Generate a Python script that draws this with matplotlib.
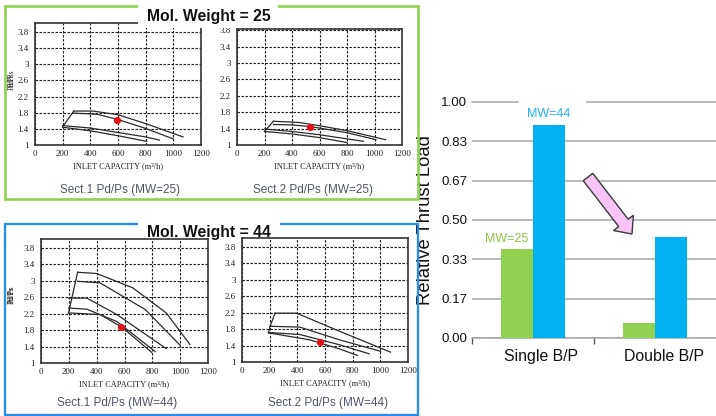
import matplotlib
matplotlib.use('Agg')
import matplotlib.pyplot as plt
import numpy as np
from matplotlib.patches import Rectangle, FancyArrow
from matplotlib.transforms import IdentityTransform, ScaledTranslation

plt.rcParams['font.family'] = ['Liberation Sans', 'DejaVu Sans']

# ---------------- data ----------------
capacity_ticks = [0, 200, 400, 600, 800, 1000, 1200]
ratio_ticks = [1, 1.4, 1.8, 2.2, 2.6, 3.0, 3.4, 3.8]
ratio_labels = ['1', '1.4', '1.8', '2.2', '2.6', '3', '3.4', '3.8']

# Sect.1 MW=25
s1_25_surge_x = [200, 280]
s1_25_surge_y = [1.45, 1.84]
s1_25_c1_x = [280, 420, 600, 800, 1070]
s1_25_c1_y = [1.84, 1.84, 1.75, 1.53, 1.20]
s1_25_c2_x = [280, 450, 600, 800, 1000]
s1_25_c2_y = [1.79, 1.76, 1.63, 1.41, 1.15]
s1_25_c3_x = [200, 400, 600, 800, 900]
s1_25_c3_y = [1.48, 1.42, 1.31, 1.20, 1.12]
s1_25_c4_x = [200, 400, 600, 807]
s1_25_c4_y = [1.44, 1.35, 1.23, 1.09]
s1_25_op = (594, 1.63)

# Sect.2 MW=25
s2_25_surge_x = [200, 265]
s2_25_surge_y = [1.33, 1.58]
s2_25_c1_x = [265, 450, 600, 800, 1080]
s2_25_c1_y = [1.58, 1.55, 1.47, 1.35, 1.13]
s2_25_c2_x = [265, 400, 533, 800, 1010]
s2_25_c2_y = [1.50, 1.49, 1.45, 1.30, 1.13]
s2_25_c3_x = [200, 400, 600, 800, 920]
s2_25_c3_y = [1.39, 1.33, 1.25, 1.15, 1.09]
s2_25_c4_x = [200, 400, 600, 800]
s2_25_c4_y = [1.33, 1.27, 1.18, 1.06]
s2_25_op = (533, 1.45)

# Sect.1 MW=44
s1_44_surge_x = [198, 263]
s1_44_surge_y = [2.22, 3.21]
s1_44_c1_x = [263, 400, 660, 900, 1070]
s1_44_c1_y = [3.21, 3.18, 2.83, 2.22, 1.45]
s1_44_c2_x = [263, 425, 750, 1000]
s1_44_c2_y = [2.99, 2.95, 2.30, 1.43]
s1_44_c3_x = [198, 330, 545, 900]
s1_44_c3_y = [2.58, 2.58, 2.18, 1.35]
s1_44_c4_x = [198, 330, 545, 820]
s1_44_c4_y = [2.34, 2.31, 2.01, 1.28]
s1_44_c5_x = [198, 425, 578, 795]
s1_44_c5_y = [2.22, 2.18, 1.88, 1.26]
s1_44_op = (578, 1.88)

# Sect.2 MW=44
s2_44_surge_x = [191, 203, 239]
s2_44_surge_y = [1.71, 1.87, 2.19]
s2_44_c1_x = [239, 394, 704, 1074]
s2_44_c1_y = [2.19, 2.19, 1.75, 1.24]
s2_44_c2_x = [203, 418, 704, 1002]
s2_44_c2_y = [1.87, 1.85, 1.54, 1.26]
s2_44_c3_x = [191, 418, 704, 919]
s2_44_c3_y = [1.72, 1.67, 1.42, 1.20]
s2_44_c4_x = [191, 489, 704, 835]
s2_44_c4_y = [1.71, 1.54, 1.32, 1.16]
s2_44_op = (566, 1.49)

# Thrust bar chart
bp_categories = ['Single B/P', 'Double B/P']
thrust_mw25 = [0.377, 0.064]
thrust_mw44 = [0.902, 0.428]
thrust_ticks = [0, 1/6, 2/6, 3/6, 4/6, 5/6, 1]
thrust_tick_labels = ['0.00', '0.17', '0.33', '0.50', '0.67', '0.83', '1.00']

# ---------------- layout ----------------
W, H = 716, 416
fig = plt.figure(figsize=(W / 100, H / 100), dpi=100)
fig.patch.set_facecolor('white')


def rect(x0, y0, x1, y1):
    return [x0 / W, 1 - y1 / H, (x1 - x0) / W, (y1 - y0) / H]


SERIF = ['Liberation Serif', 'DejaVu Serif']
LINE = '#2b2b2b'


def panel(frame, ytop, curves, surge, op, sub_text, sub_xy):
    ax = fig.add_axes(rect(*frame))
    for cx, cy in curves:
        ax.plot(cx, cy, color=LINE, lw=0.9)
    ax.plot(surge[0], surge[1], color=LINE, lw=0.9)
    ax.plot([op[0]], [op[1]], 'o', color='#e3101c', ms=4.2, zorder=5)
    ax.set_xlim(0, 1200)
    ax.set_ylim(1, ytop)
    ax.set_xticks(capacity_ticks)
    ax.set_yticks(ratio_ticks)
    ax.set_yticklabels(ratio_labels)
    ax.grid(True, color='#1a1a1a', lw=0.8, ls=(0, (2.2, 1.4)))
    ax.tick_params(length=0, labelsize=6.5, pad=3.5, colors='#222')
    ax.tick_params(axis='y', pad=4.5)
    for lbl in ax.get_xticklabels() + ax.get_yticklabels():
        lbl.set_family(SERIF)
    for s in ax.spines.values():
        s.set_linewidth(1.2)
        s.set_color('#333333')
    ax.set_xlabel('INLET CAPACITY (m³/h)', fontsize=6, family=SERIF,
                  labelpad=3, color='#222')
    ax.set_ylabel('Pd/Ps', fontsize=5.5, family=SERIF, color='#222')
    ax.yaxis.set_label_coords((16 - frame[0]) / (frame[2] - frame[0]), 0.55)
    fig.text(sub_xy[0] / W, 1 - sub_xy[1] / H, sub_text, ha='center',
             va='center', fontsize=8.5, color='#4f5568')
    return ax


panel((35, 23, 201, 145), 4.02,
      [(s1_25_c1_x, s1_25_c1_y), (s1_25_c2_x, s1_25_c2_y),
       (s1_25_c3_x, s1_25_c3_y), (s1_25_c4_x, s1_25_c4_y)],
      (s1_25_surge_x, s1_25_surge_y), s1_25_op,
      'Sect.1 Pd/Ps (MW=25)', (120, 190.5))
panel((237, 29, 402, 145), 3.83,
      [(s2_25_c1_x, s2_25_c1_y), (s2_25_c2_x, s2_25_c2_y),
       (s2_25_c3_x, s2_25_c3_y), (s2_25_c4_x, s2_25_c4_y)],
      (s2_25_surge_x, s2_25_surge_y), s2_25_op,
      'Sect.2 Pd/Ps (MW=25)', (313, 190.5))
panel((41, 239, 208, 363), 4.02,
      [(s1_44_c1_x, s1_44_c1_y), (s1_44_c2_x, s1_44_c2_y),
       (s1_44_c3_x, s1_44_c3_y), (s1_44_c4_x, s1_44_c4_y),
       (s1_44_c5_x, s1_44_c5_y)],
      (s1_44_surge_x, s1_44_surge_y), s1_44_op,
      'Sect.1 Pd/Ps (MW=44)', (117, 403))
panel((242, 238, 408, 362), 4.02,
      [(s2_44_c1_x, s2_44_c1_y), (s2_44_c2_x, s2_44_c2_y),
       (s2_44_c3_x, s2_44_c3_y), (s2_44_c4_x, s2_44_c4_y)],
      (s2_44_surge_x, s2_44_surge_y), s2_44_op,
      'Sect.2 Pd/Ps (MW=44)', (328, 403))

# group boxes and titles (pixel coordinates, y from bottom)
IT = IdentityTransform()
fig.add_artist(Rectangle((5, H - 199), 413, 193, transform=IT, fill=False,
                         ec='#92d050', lw=1.9, zorder=1))
fig.add_artist(Rectangle((5, H - 415), 413, 191, transform=IT, fill=False,
                         ec='#2a8fe8', lw=1.7, zorder=1))
fig.add_artist(Rectangle((138, H - 28), 140, 28, transform=IT, fc='white',
                         ec='none', zorder=2))
fig.add_artist(Rectangle((138, H - 236), 142, 18, transform=IT, fc='white',
                         ec='none', zorder=2))
fig.text(208.5 / W, 1 - 16 / H, 'Mol. Weight = 25', ha='center', va='center',
         fontsize=11.3, fontweight='bold', color='#111', zorder=3)
fig.text(208.5 / W, 1 - 232 / H, 'Mol. Weight = 44', ha='center', va='center',
         fontsize=11.3, fontweight='bold', color='#111', zorder=3)

# ---------------- bar chart ----------------
axb = fig.add_axes(rect(472, 102, 716, 338))
xc = np.arange(len(bp_categories))
bw = 0.26
axb.bar(xc - bw / 2, thrust_mw25, bw, color='#92d050', zorder=3)
axb.bar(xc + bw / 2, thrust_mw44, bw, color='#00b0f0', zorder=3)
axb.set_xlim(-0.5, 1.5)
axb.set_ylim(0, 1)
axb.set_yticks(thrust_ticks)
axb.set_yticklabels(thrust_tick_labels)
axb.set_xticks(xc)
axb.set_xticklabels(bp_categories)
axb.set_xticks([-0.5, 0.5], minor=True)
axb.tick_params(axis='y', length=0, labelsize=9.6, pad=3.5, colors='#111')
axb.tick_params(axis='x', which='major', length=0, labelsize=11.4, pad=8,
                colors='#111')
axb.tick_params(axis='x', which='minor', length=4, width=1, color='#555')
off = ScaledTranslation(8.5 / 100, 0, fig.dpi_scale_trans)
for lbl in axb.get_xticklabels():
    lbl.set_transform(lbl.get_transform() + off)
axb.grid(axis='y', color='#a6a6a6', lw=1.1, zorder=0)
axb.get_ygridlines()[-1].set_visible(False)
axb.axhline(1.0, xmin=0, xmax=(518 - 472) / 244, color='#a6a6a6', lw=1.1,
            clip_on=False, zorder=0)
axb.axhline(1.0, xmin=(587 - 472) / 244, xmax=1, color='#a6a6a6', lw=1.1,
            clip_on=False, zorder=0)
for side in ['top', 'right', 'left']:
    axb.spines[side].set_visible(False)
axb.spines['bottom'].set_color('#a6a6a6')
axb.spines['bottom'].set_linewidth(1.1)
axb.set_ylabel('Relative Thrust Load', fontsize=13.3, labelpad=5, color='#111')
axb.annotate('MW=25', xy=(xc[0] - bw / 2, thrust_mw25[0]),
             xytext=(-10.5, 10), textcoords='offset pixels', ha='center',
             va='center', fontsize=9, color='#86c540')
axb.annotate('MW=44', xy=(xc[0] + bw / 2, thrust_mw44[0]),
             xytext=(0, 11), textcoords='offset pixels', ha='center',
             va='center', fontsize=9, color='#1cb2ef')

fig.add_artist(FancyArrow(588, H - 177, 44, -57, width=12, head_width=25,
                          head_length=14, length_includes_head=True,
                          transform=IT, fc='#f8c4f8', ec='#3a3a3a', lw=1,
                          zorder=4))

fig.savefig('out.png', dpi=100)
